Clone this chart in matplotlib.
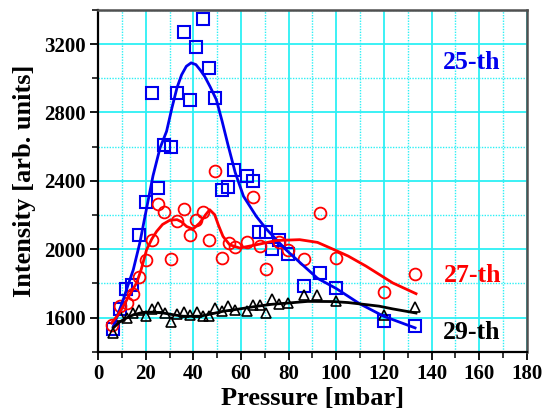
import matplotlib
matplotlib.use("Agg")
import matplotlib.pyplot as plt
from matplotlib.ticker import MultipleLocator

plt.rcParams['font.family'] = ['Liberation Serif', 'DejaVu Serif']
plt.rcParams['font.weight'] = 'bold'

# measured points, 25-th harmonic (blue squares)
p25 = [6.3, 9.1, 11.6, 14.1, 17.2, 20.0, 22.5, 25.2, 27.8, 30.5, 33.1, 35.9, 38.6, 41.1, 43.8, 46.5,
       49.2, 52.0, 54.5, 57.0, 62.5, 65.0, 67.5, 70.6, 73.1, 75.9, 79.7, 86.5, 93.2, 99.7, 119.9, 133.1]
i25 = [1534, 1651, 1768, 1793, 2083, 2276, 2912, 2357, 2609, 2600, 2912, 3269, 2875, 3183, 3346, 3062,
       2885, 2346, 2365, 2464, 2429, 2398, 2100, 2098, 2003, 2054, 1972, 1783, 1861, 1771, 1582, 1549]

# 27-th harmonic (red circles)
p27 = [5.9, 9.1, 12.2, 14.7, 17.2, 20.0, 22.4, 25.2, 27.8, 30.5, 33.1, 35.9, 38.4, 41.1, 43.8, 46.5,
       49.2, 51.8, 54.8, 57.3, 62.4, 65.0, 67.9, 70.6, 76.0, 79.8, 86.6, 93.2, 99.7, 119.9, 133.1]
i27 = [1555, 1670, 1686, 1740, 1839, 1935, 2055, 2266, 2215, 1945, 2168, 2235, 2086, 2173, 2215, 2055,
       2460, 1950, 2035, 2012, 2044, 2305, 2016, 1886, 2045, 1996, 1944, 2211, 1947, 1748, 1855]

# 29-th harmonic (black triangles)
p29 = [6.3, 9.1, 12.2, 14.7, 17.2, 20.0, 22.6, 25.2, 28.0, 30.5, 33.1, 35.9, 38.4, 41.3, 43.8, 46.4,
       49.2, 52.0, 54.5, 57.3, 62.5, 65.0, 67.8, 70.6, 73.1, 75.9, 79.8, 86.5, 92.1, 99.7, 119.9, 133.2]
i29 = [1511, 1608, 1598, 1627, 1647, 1608, 1651, 1662, 1627, 1573, 1623, 1631, 1613, 1635, 1612, 1612,
       1657, 1641, 1666, 1647, 1637, 1676, 1676, 1627, 1711, 1680, 1686, 1730, 1730, 1697, 1618, 1663]

# fitted curves
c25x = [6.3, 8, 10.5, 12.5, 14.7, 17.5, 20.3, 23, 25.9, 28.7, 31, 33.1, 35, 37, 39, 41, 43, 44.7,
        47, 49.6, 52, 54.5, 57.5, 61, 66.4, 70.5, 74.8, 79, 84.5, 92.1, 100, 109.7, 119.9, 133.1]
c25y = [1549, 1610, 1705, 1790, 1880, 2040, 2240, 2430, 2590, 2690, 2830, 2946, 3020, 3070, 3090,
        3080, 3045, 3011, 2950, 2875, 2750, 2610, 2450, 2310, 2192, 2120, 2056, 1995, 1925, 1830,
        1770, 1682, 1608, 1540]

c27x = [5.6, 8, 10.5, 13, 16.1, 18, 20.3, 22.5, 24.5, 27, 30.1, 33.1, 35, 37.1, 39.8, 42.6, 45,
        46.8, 48.9, 50.5, 52.4, 55.2, 59.4, 66.4, 74.8, 84.6, 92.1, 98.5, 105, 112.5, 123.7, 133.5]
c27y = [1569, 1610, 1666, 1730, 1803, 1880, 1997, 2060, 2104, 2145, 2170, 2173, 2160, 2133, 2118,
        2153, 2200, 2231, 2202, 2140, 2075, 2026, 2007, 2026, 2051, 2056, 2040, 2001, 1960, 1901,
        1803, 1740]

c29x = [6.3, 9, 11.9, 15, 18.9, 23, 27.3, 31, 35.6, 42.6, 47, 52.4, 59, 66.4, 73, 80.4, 88, 98.5,
        105, 112.5, 118, 123.7, 133.5]
c29y = [1540, 1575, 1598, 1618, 1631, 1632, 1627, 1618, 1608, 1608, 1620, 1637, 1650, 1666, 1678,
        1686, 1695, 1694, 1688, 1676, 1667, 1651, 1627]

fig = plt.figure(figsize=(5.43, 4.11), dpi=100)
ax = fig.add_axes([0.181, 0.144, 0.789, 0.832])

ax.plot(p25, i25, 's', ms=8, mfc='none', mec='#0000ee', mew=1.5, zorder=3)
ax.plot(p27, i27, 'o', ms=8.5, mfc='none', mec='#ff0000', mew=1.3, zorder=3)
ax.plot(p29, i29, '^', ms=7.5, mfc='none', mec='black', mew=1.2, zorder=3)

ax.plot(c25x, c25y, color='#0000ee', lw=2, zorder=4)
ax.plot(c27x, c27y, color='#ff0000', lw=2, zorder=4)
ax.plot(c29x, c29y, color='black', lw=2, zorder=4)

ax.set_xlim(0, 180)
ax.set_ylim(1400, 3400)
ax.xaxis.set_major_locator(MultipleLocator(20))
ax.xaxis.set_minor_locator(MultipleLocator(10))
ax.yaxis.set_minor_locator(MultipleLocator(200))
ax.set_yticks([1600, 2000, 2400, 2800, 3200])

ax.grid(which='major', color='#2cf0f5', lw=1.3, ls='-')
ax.grid(which='minor', color='#2cf0f5', lw=1.0, ls=(0, (1, 1)))
ax.set_axisbelow(True)

ax.tick_params(which='major', direction='out', length=6, width=1.3, labelsize=15, pad=3)
ax.tick_params(which='minor', direction='out', length=4, width=1.1)
for lab in ax.get_xticklabels() + ax.get_yticklabels():
    lab.set_fontweight('bold')

for s in ['left', 'bottom']:
    ax.spines[s].set_linewidth(1.6)
    ax.spines[s].set_color('black')
for s in ['top', 'right']:
    ax.spines[s].set_linewidth(1.8)
    ax.spines[s].set_color('#505050')

ax.set_xlabel('Pressure [mbar]', fontsize=19, fontweight='bold', labelpad=2)
ax.set_ylabel('Intensity [arb. units]', fontsize=19, fontweight='bold', labelpad=6)

ax.text(0.871, 0.845, '25-th', color='#0000ee', fontsize=18.5, fontweight='bold',
        ha='center', va='center', transform=ax.transAxes)
ax.text(0.873, 0.222, '27-th', color='#ff0000', fontsize=18.5, fontweight='bold',
        ha='center', va='center', transform=ax.transAxes)
ax.text(0.871, 0.056, '29-th', color='black', fontsize=18.5, fontweight='bold',
        ha='center', va='center', transform=ax.transAxes)

fig.savefig('out.png', dpi=100)
